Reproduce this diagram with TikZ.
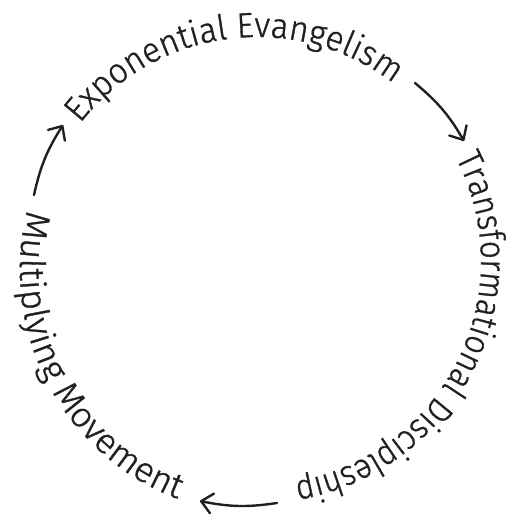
\documentclass[tikz,border=0pt]{standalone}
\usepackage{fontspec}
\newfontfamily\fontA{Fira Sans Light}[FakeStretch=0.95,FakeBold=1]
\newfontfamily\fontB{Fira Sans Light}[FakeStretch=0.90,FakeBold=1]
\newfontfamily\fontC{Fira Sans Light}[FakeStretch=1.03,FakeBold=1]
\usetikzlibrary{decorations.text,arrows.meta}
\definecolor{ink}{HTML}{231F20}
\newcommand\sizeit{\fontsize{35pt}{42pt}\selectfont\color{ink}}
\begin{document}
\begin{tikzpicture}[x=1pt,y=1pt,
  lbl/.style={decorate, decoration={text along path, text align=center}},
  cyc/.style={draw=ink, line width=2.4pt, line cap=round,
    -{Straight Barb[length=11pt,width=20pt,round]}, bend left=10}]
\useasboundingbox (0,0) rectangle (511,516);
\coordinate (C) at (257,255);
\coordinate (D) at (265,246);
% texts along the circle
\path[lbl, decoration={text={|\fontA\sizeit|Exponential Evangelism}}]
  ([shift={(187.3:224pt)}]C) arc[start angle=187.3, end angle=7.3, radius=224pt];
\path[lbl, decoration={text={|\fontB\sizeit|Transformational Discipleship}}]
  ([shift={(63.5:224pt)}]C) arc[start angle=63.5, end angle=-116.5, radius=224pt];
\path[lbl, decoration={text={|\fontC\sizeit|Multiplying Movement}}]
  ([shift={(117.5:245pt)}]D) arc[start angle=117.5, end angle=297.5, radius=245pt];
% arrows
\coordinate (a1s) at (415,433); \coordinate (a1e) at (464,375);
\coordinate (a2s) at (277,13);  \coordinate (a2e) at (200,15);
\coordinate (a3s) at (34,321);  \coordinate (a3e) at (63,391);
\draw[cyc] (a1s) to (a1e);
\draw[cyc] (a2s) to (a2e);
\draw[cyc] (a3s) to (a3e);
\end{tikzpicture}
\end{document}
